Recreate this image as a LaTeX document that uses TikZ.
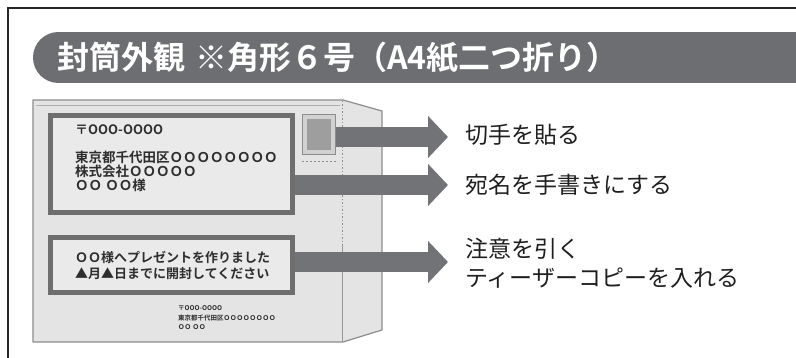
\documentclass[tikz,border=0pt]{standalone}
\usepackage{fontspec}
\setmainfont{Noto Sans CJK JP}
\newfontfamily\jpbold{Noto Sans CJK JP Bold}
\newfontfamily\jp{Noto Sans CJK JP}
\usetikzlibrary{arrows.meta}
\definecolor{banner}{HTML}{6D6E72}
\definecolor{arrowgray}{HTML}{727376}
\definecolor{envfill}{HTML}{E4E4E4}
\definecolor{envline}{HTML}{8C8C8C}
\definecolor{boxline}{HTML}{6E6E6E}
\definecolor{boxfill}{HTML}{EAEAEA}
\definecolor{inktext}{HTML}{2E2E2E}
\tikzset{
  frameline/.style={line width=1.6pt, draw=black!85},
  envbody/.style={fill=envfill, draw=envline, line width=1.2pt, line join=round},
  labelbox/.style={draw=boxline, line width=5pt, fill=boxfill},
  bigarrow/.style={draw=arrowgray, line width=20pt,
    -{Triangle[length=20pt,width=41pt,fill=arrowgray]}},
  addr/.style={anchor=west, inner sep=0pt, text=inktext, font=\jpbold\fontsize{13.5}{14}\selectfont},
  note/.style={anchor=west, inner sep=0pt, text=black!88, font=\jp\fontsize{23}{29}\selectfont, align=left},
}
\begin{document}
\begin{tikzpicture}[x=1pt, y=-1pt]
  \useasboundingbox (0,0) rectangle (796,358);
  % outer frame (open to the right and bottom)
  \draw[frameline] (8,358) -- (8,8) -- (796,8);
  % title banner with a rounded left end
  \fill[banner] (58,32) rectangle (796,83);
  \fill[banner] (58.5,57.5) circle[radius=25.5];
  \node[anchor=west, inner sep=0pt, text=white, font=\jpbold\fontsize{32}{34}\selectfont]
    (title) at (57,58) {封筒外観\hspace{10pt}※角形６号（A4紙二つ折り）};

  % envelope body with folded flap on the right
  \draw[envbody] (33,100) -- (343,100) -- (382,111) -- (382,330) -- (343,342) -- (33,342) -- cycle;
  \draw[envline!70, line width=0.8pt] (36,105) -- (340,105);
  \draw[envline, line width=0.9pt, dash pattern=on 1.5pt off 2pt] (342,101) -- (342,245);
  \draw[envline!90, line width=0.9pt] (342,245) -- (342,341);

  % stamp
  \node[draw=envline, fill=black!18, line width=1pt, minimum width=33pt, minimum height=40pt, inner sep=0pt]
    (stamp) at (318.5,135) {};
  \node[fill=black!38, minimum width=24pt, minimum height=31pt, inner sep=0pt] (stampimg) at (stamp.center) {};
  \draw[envline, line width=1pt, dash pattern=on 2pt off 2pt] (302,162) -- (336,162);

  % address label
  \node[labelbox, minimum width=242pt, minimum height=97pt, inner sep=0pt] (addrbox) at (171.5,164) {};
  \node[addr, font=\jpbold\fontsize{13}{14}\selectfont] (zip) at (75,130) {〒OOO-OOOO};
  \node[addr] (addr1) at (75,157) {東京都千代田区ＯＯＯＯＯＯＯＯ};
  \node[addr] (addr2) at (75,171) {株式会社ＯＯＯＯＯ};
  \node[addr] (addr3) at (75,185) {ＯＯ ＯＯ様};

  % teaser label
  \node[labelbox, minimum width=242pt, minimum height=55pt, inner sep=0pt] (teaser) at (171.5,265) {};
  \node[addr, font=\jpbold\fontsize{13}{14}\selectfont] (teaser1) at (75,257) {ＯＯ様へプレゼントを作りました};
  \node[addr, font=\jpbold\fontsize{13}{14}\selectfont] (teaser2) at (75,274) {▲月▲日までに開封してください};

  % sender
  \node[addr, font=\jpbold\fontsize{6.5}{7}\selectfont] (send1) at (178,308) {〒OOO-OOOO};
  \node[addr, font=\jpbold\fontsize{6.5}{7}\selectfont] (send2) at (178,318) {東京都千代田区ＯＯＯＯＯＯＯＯ};
  \node[addr, font=\jpbold\fontsize{6.5}{7}\selectfont] (send3) at (178,327) {ＯＯ ＯＯ};

  % notes
  \node[note] (n1) at (465,135) {切手を貼る};
  \node[note] (n2) at (465,185) {宛名を手書きにする};
  \node[note] (n3) at (465,263) {注意を引く\\ティーザーコピーを入れる};

  % arrows
  \coordinate (t1) at (448,137);
  \coordinate (t2) at (448,185);
  \coordinate (t3) at (448,262);
  \draw[bigarrow] (stamp.east |- t1) -- (t1);
  \draw[bigarrow] (addrbox.east |- t2) -- (t2);
  \draw[bigarrow] (teaser.east |- t3) -- (t3);
\end{tikzpicture}
\end{document}
